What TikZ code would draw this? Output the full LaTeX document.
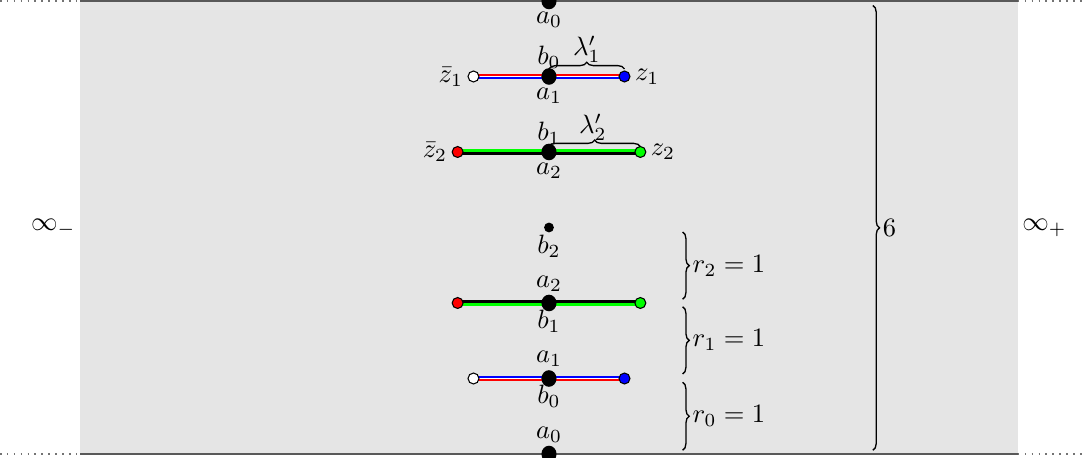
\documentclass[tikz,border=0pt]{standalone}
\usetikzlibrary{decorations.pathreplacing,backgrounds,shapes.geometric}
\begin{document}
\begin{tikzpicture}[
  bigdot/.style={ellipse, fill=black, inner sep=0pt, minimum width=0.2cm, minimum height=0.22cm},
  smalldot/.style={circle, fill=black, inner sep=0pt, minimum size=0.13cm},
  enddot/.style={circle, draw=black, line width=0.4pt, inner sep=0pt, minimum size=0.145cm},
  lbl/.style={inner sep=0pt},
  brc/.style={decorate, decoration={brace, amplitude=2.5pt}, line width=0.5pt},
  border/.style={black!65, line width=0.6pt},
  dotborder/.style={black!55, dotted, line width=0.6pt},
]
\useasboundingbox (-7.271,-0.04) rectangle (7.099,6.013);
\clip (-7.271,-0.04) rectangle (7.099,6.013);

% ---- upper part ----
\node[bigdot] (a0t) at (0,6) {};
\node[bigdot] (c1u) at (0,5) {};
\node[bigdot] (c2u) at (0,4) {};
\node[enddot, fill=white] (zb1u) at (-1,5) {};
\node[enddot, fill=blue] (z1u) at (1,5) {};
\node[enddot, fill=red] (zb2u) at (-1.21,4) {};
\node[enddot, fill=green] (z2u) at (1.21,4) {};

% ---- lower part ----
\node[smalldot] (b2d) at (0,3) {};
\node[bigdot] (c2l) at (0,2) {};
\node[bigdot] (c1l) at (0,1) {};
\node[bigdot] (a0b) at (0,0) {};
\node[enddot, fill=red] (zb2l) at (-1.21,2) {};
\node[enddot, fill=green] (z2l) at (1.21,2) {};
\node[enddot, fill=white] (zb1l) at (-1,1) {};
\node[enddot, fill=blue] (z1l) at (1,1) {};

\begin{pgfonlayer}{background}
  \fill[gray!20] (-6.21,0) rectangle (6.21,6);
  \draw[border] (-6.21,6) -- (6.21,6);
  \draw[border] (-6.21,0) -- (6.21,0);
  \draw[dotborder] (-7.271,6) -- (-6.21,6);
  \draw[dotborder] (6.21,6) -- (7.099,6);
  \draw[dotborder] (-7.271,0) -- (-6.21,0);
  \draw[dotborder] (6.21,0) -- (7.099,0);
  % upper z1 line: red over blue
  \draw[white, line width=2.2pt] (zb1u.center) -- (z1u.center);
  \draw[red, line width=0.85pt] ([yshift=0.68pt]zb1u.center) -- ([yshift=0.68pt]z1u.center);
  \draw[blue, line width=0.85pt] ([yshift=-0.68pt]zb1u.center) -- ([yshift=-0.68pt]z1u.center);
  % upper z2 line: green over black
  \draw[green, line width=1.1pt] ([yshift=0.55pt]zb2u.center) -- ([yshift=0.55pt]z2u.center);
  \draw[black, line width=1.1pt] ([yshift=-0.55pt]zb2u.center) -- ([yshift=-0.55pt]z2u.center);
  % lower z2 line: black over green
  \draw[black, line width=1.1pt] ([yshift=0.55pt]zb2l.center) -- ([yshift=0.55pt]z2l.center);
  \draw[green, line width=1.1pt] ([yshift=-0.55pt]zb2l.center) -- ([yshift=-0.55pt]z2l.center);
  % lower z1 line: blue over red
  \draw[white, line width=2.2pt] (zb1l.center) -- (z1l.center);
  \draw[blue, line width=0.85pt] ([yshift=0.68pt]zb1l.center) -- ([yshift=0.68pt]z1l.center);
  \draw[red, line width=0.85pt] ([yshift=-0.68pt]zb1l.center) -- ([yshift=-0.68pt]z1l.center);
\end{pgfonlayer}

% ---- vertex labels ----
\node[lbl] (la0t) at (0,5.75) {$a_0$};
\node[lbl] (lb0u) at (0,5.25) {$b_0$};
\node[lbl] (la1u) at (0,4.75) {$a_1$};
\node[lbl] (lb1u) at (0,4.25) {$b_1$};
\node[lbl] (la2u) at (0,3.75) {$a_2$};
\node[lbl] (lb2d) at (0,2.75) {$b_2$};
\node[lbl] (la2l) at (0,2.26) {$a_2$};
\node[lbl] (lb1l) at (0,1.76) {$b_1$};
\node[lbl] (la1l) at (0,1.26) {$a_1$};
\node[lbl] (lb0l) at (0,0.76) {$b_0$};
\node[lbl] (la0b) at (0,0.26) {$a_0$};

\node[left, inner sep=1.5pt] (lzb1) at (zb1u.west) {$\bar z_1$};
\node[right, inner sep=1.5pt] (lz1) at (z1u.east) {$z_1$};
\node[left, inner sep=1.5pt] (lzb2) at (zb2u.west) {$\bar z_2$};
\node[right, inner sep=1.5pt] (lz2) at (z2u.east) {$z_2$};

% ---- lambda braces ----
\draw[brc] ([yshift=0.1cm]c1u.center) -- ([yshift=0.1cm]z1u.center);
\node[lbl] (lam1) at (0.5,5.36) {$\lambda'_1$};
\draw[brc] ([yshift=0.07cm]c2u.center) -- ([yshift=0.07cm]z2u.center);
\node[lbl] (lam2) at (0.58,4.33) {$\lambda'_2$};

% ---- right braces ----
\coordinate (r2t) at (1.77,2.94); \coordinate (r2b) at (1.77,2.05);
\coordinate (r1t) at (1.77,1.95); \coordinate (r1b) at (1.77,1.06);
\coordinate (r0t) at (1.77,0.95); \coordinate (r0b) at (1.77,0.05);
\draw[brc] (r2t) -- node[right=2.5pt, inner sep=1pt] (lr2) {$r_2 = 1$} (r2b);
\draw[brc] (r1t) -- node[right=2.5pt, inner sep=1pt] (lr1) {$r_1 = 1$} (r1b);
\draw[brc] (r0t) -- node[right=2.5pt, inner sep=1pt] (lr0) {$r_0 = 1$} (r0b);
\coordinate (bt) at (4.29,5.94); \coordinate (bb) at (4.29,0.05);
\draw[brc] (bt) -- node[right=2.5pt, inner sep=1pt] (l6) {$6$} (bb);

% ---- infinity labels ----
\node[left, inner sep=1.5pt] (infm) at (-6.21,3) {$\infty_-$};
\node[right, inner sep=1.5pt] (infp) at (6.21,3) {$\infty_+$};
\end{tikzpicture}
\end{document}
